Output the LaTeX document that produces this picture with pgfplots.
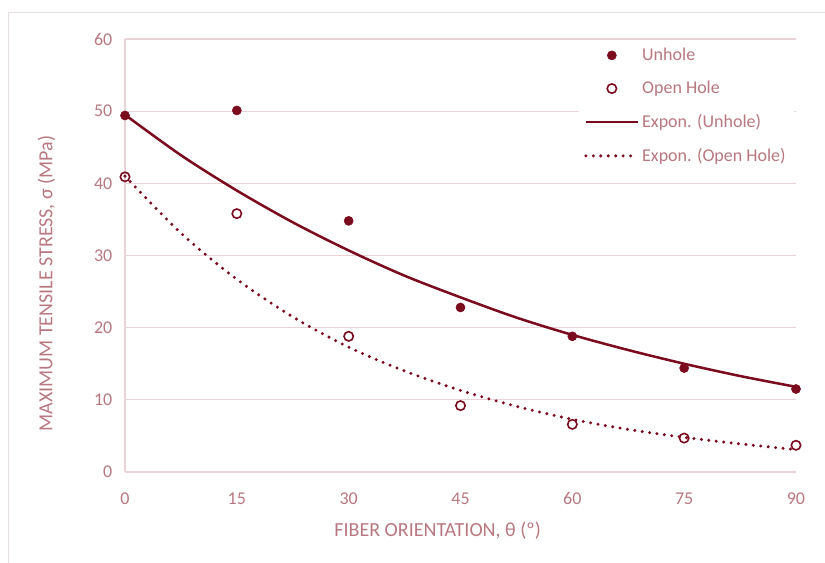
\documentclass[border=0pt]{standalone}
\usepackage{pgfplots}
\pgfplotsset{compat=1.18}
\usepackage{fontspec}
\setmainfont{Carlito}
\definecolor{mk}{HTML}{7A0C1E}
\definecolor{txt}{HTML}{B8787F}
\definecolor{grd}{HTML}{EAD3D6}
\definecolor{frm}{HTML}{E6E0E1}

\begin{document}
\begin{tikzpicture}
  \useasboundingbox (-93.75pt,-68.25pt) rectangle (525pt,354pt);
  \draw[frm, line width=0.6pt] (-87.75pt,-68.25pt) -- (-87.75pt,345pt) -- (525pt,345pt);
  \begin{axis}[
    at={(0,0)}, anchor=origin,
    scale only axis,
    width=503.25pt, height=324.75pt,
    xmin=0, xmax=90, ymin=0, ymax=60,
    xtick={0,15,...,90}, ytick={0,10,...,60},
    axis x line=bottom, axis y line=left,
    axis line style={grd, line width=0.9pt, -},
    ymajorgrids, grid style={grd, line width=0.9pt},
    major tick length=0pt,
    clip=false,
    /pgf/number format/assume math mode=true,
    ticklabel style={font=\fontsize{13.5}{15}\selectfont, text=txt},
    xticklabel style={yshift=-12pt},
    yticklabel style={xshift=-6pt},
    xlabel={FIBER ORIENTATION, θ (º)},
    ylabel={MAXIMUM TENSILE STRESS, σ (MPa)},
    xlabel style={at={(axis description cs:0.466,-0.1355)}, anchor=center,
      font=\fontsize{15}{17}\selectfont, text=txt},
    ylabel style={at={(axis description cs:-0.1172,0.435)}, anchor=center, rotate=0,
      font=\fontsize{15}{17}\selectfont, text=txt},
    legend style={at={(axis description cs:0.676,0.998)}, anchor=north west,
      draw=none, fill=white, font=\fontsize{13.5}{15}\selectfont, text=txt,
      row sep=10pt, inner sep=4pt},
    legend cell align=left,
    legend image code/.code={\draw[#1] (0pt,0pt) -- (39pt,0pt);},
  ]
    \addplot[only marks, mark=*, mark size=3.4pt, mk,
      legend image code/.code={\draw[mk, fill=mk] (19.5pt,0pt) circle (3.4pt);}]
      coordinates {(0,49.4) (15,50.1) (30,34.8) (45,22.8) (60,18.8) (75,14.4) (90,11.5)};
    \addlegendentry{Unhole}
    \addplot[only marks, mark=o, mark size=3.5pt, mk, mark options={line width=1.2pt, fill=white},
      legend image code/.code={\draw[mk, fill=white, line width=1.2pt] (19.5pt,0pt) circle (3.5pt);}]
      coordinates {(0,40.9) (15,35.8) (30,18.8) (45,9.2) (60,6.6) (75,4.7) (90,3.7)};
    \addlegendentry{Open Hole}
    \addplot[mk, line width=1.9pt, smooth, mark=none]
      coordinates {(0,49.5) (7.5,43.9) (15,39.0) (22.5,34.6) (30,30.7) (37.5,27.2) (45,24.2)
        (52.5,21.4) (60,19.0) (67.5,16.9) (75,15.0) (82.5,13.3) (90,11.8)};
    \addlegendentry{Expon. (Unhole)}
    \addplot[mk, line width=2.5pt, line cap=round, dash pattern=on 0pt off 5.6pt, smooth, mark=none]
      coordinates {(0,41.0) (7.5,33.1) (15,26.7) (22.5,21.5) (30,17.3) (37.5,14.0) (45,11.3)
        (52.5,9.1) (60,7.3) (67.5,5.9) (75,4.8) (82.5,3.9) (90,3.1)};
    \addlegendentry{Expon. (Open Hole)}
  \end{axis}
\end{tikzpicture}
\end{document}
